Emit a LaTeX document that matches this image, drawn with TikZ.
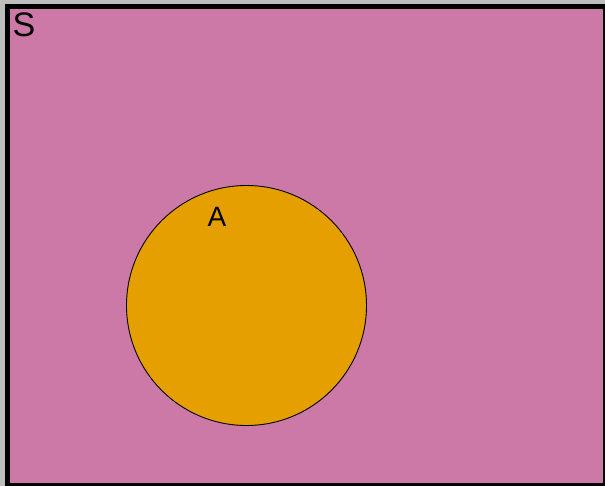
\documentclass[tikz,border=0pt]{standalone}
\usepackage{fontspec}
\setmainfont{Liberation Sans}
\definecolor{bggray}{HTML}{BEBEBE}
\definecolor{setpink}{HTML}{CC79A7}
\definecolor{setorange}{HTML}{E69F00}
\tikzset{
  lbl/.style={inner sep=0pt, anchor=base west, text=black},
}
\begin{document}
\begin{tikzpicture}[x=1pt,y=-1pt]
\useasboundingbox (0,0) rectangle (605,486);
\clip (0,0) rectangle (605,486);
\fill[bggray] (0,0) rectangle (605,486);
\draw[fill=setpink, draw=black, line width=5pt] (7.5,6.5) rectangle (605.5,485.5);
\node[circle, draw=black, fill=setorange, line width=0.9pt, minimum size=240pt, inner sep=0pt] (A) at (246.5,305.5) {};
\node[lbl, font=\fontsize{34}{40}\selectfont] (S) at (12.5,37) {S};
\node[lbl, font=\fontsize{28}{32}\selectfont] (Alabel) at (207.5,226.5) {A};
\end{tikzpicture}
\end{document}
